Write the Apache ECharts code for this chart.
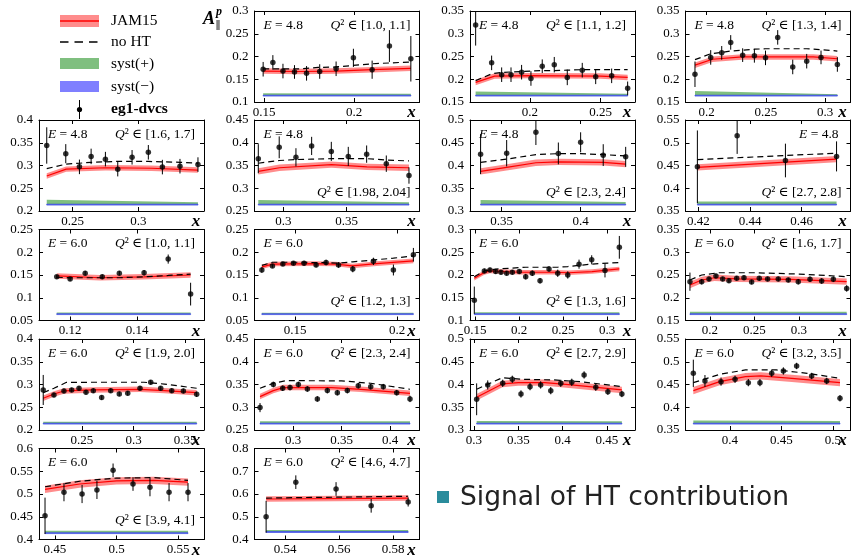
<!DOCTYPE html>
<html>
<head>
<meta charset="utf-8">
<script src="https://cdn.jsdelivr.net/npm/echarts@6/dist/echarts.min.js"></script>
<style>
html, body { margin: 0; padding: 0; background: #fff; }
#chart { width: 852px; height: 558px; }
</style>
</head>
<body>
<div id="chart"></div>
<script>
const SERIF = 'Liberation Serif, DejaVu Serif, serif'

// panel labels
const beamE = ['4.8', '4.8', '4.8', '4.8', '4.8', '4.8', '4.8', '6.0', '6.0', '6.0', '6.0', '6.0', '6.0', '6.0', '6.0', '6.0', '6.0']
const q2Bins = ['[1.0, 1.1]', '[1.1, 1.2]', '[1.3, 1.4]', '[1.6, 1.7]', '[1.98, 2.04]', '[2.3, 2.4]', '[2.7, 2.8]',
  '[1.0, 1.1]', '[1.2, 1.3]', '[1.3, 1.6]', '[1.6, 1.7]', '[1.9, 2.0]', '[2.3, 2.4]', '[2.7, 2.9]', '[3.2, 3.5]', '[3.9, 4.1]', '[4.6, 4.7]']

// axis ranges and tick labels
const xMin = [0.1447, 0.1576, 0.1821, 0.2243, 0.2773, 0.33, 0.415, 0.1107, 0.1301, 0.1443, 0.1725, 0.2083, 0.2603, 0.2955, 0.3568, 0.437, 0.5287]
const xMax = [0.2363, 0.2743, 0.3215, 0.35, 0.4075, 0.4344, 0.4789, 0.16, 0.211, 0.3318, 0.3579, 0.3684, 0.4304, 0.4816, 0.517, 0.5711, 0.5898]
const xTicks = [[0.15, 0.2], [0.2, 0.25], [0.2, 0.25, 0.3], [0.25, 0.3], [0.3, 0.35], [0.35, 0.4], [0.42, 0.44, 0.46],
  [0.12, 0.14], [0.15, 0.2], [0.15, 0.2, 0.25, 0.3], [0.2, 0.25, 0.3], [0.25, 0.3, 0.35], [0.3, 0.35, 0.4],
  [0.3, 0.35, 0.4, 0.45], [0.4, 0.45, 0.5], [0.45, 0.5, 0.55], [0.54, 0.56, 0.58]]
const yMin = [0.1, 0.15, 0.15, 0.2, 0.25, 0.3, 0.35, 0.05, 0.05, 0.1, 0.15, 0.2, 0.25, 0.3, 0.35, 0.4, 0.4]
const yMax = [0.3, 0.35, 0.35, 0.4, 0.45, 0.5, 0.55, 0.25, 0.25, 0.3, 0.35, 0.4, 0.45, 0.5, 0.55, 0.6, 0.8]
const yStep = [0.05, 0.05, 0.05, 0.05, 0.05, 0.05, 0.05, 0.05, 0.05, 0.05, 0.05, 0.05, 0.05, 0.05, 0.05, 0.05, 0.1]

// eg1-dvcs points: [x, A, err]
const pts1 = [[0.1495, 0.172, 0.016], [0.1549, 0.187, 0.016], [0.1605, 0.168, 0.016], [0.1669, 0.166, 0.015], [0.1736, 0.163, 0.016], [0.1809, 0.167, 0.016], [0.19, 0.173, 0.016], [0.1996, 0.197, 0.02], [0.21, 0.171, 0.02], [0.2196, 0.223, 0.035], [0.2315, 0.195, 0.05]]
const pts2 = [[0.1616, 0.319, 0.045], [0.1729, 0.236, 0.016], [0.18, 0.21, 0.016], [0.1866, 0.21, 0.016], [0.1941, 0.2155, 0.016], [0.2007, 0.2017, 0.016], [0.2087, 0.2286, 0.015], [0.2172, 0.232, 0.017], [0.2264, 0.204, 0.017], [0.237, 0.22, 0.016], [0.2465, 0.2053, 0.016], [0.2578, 0.2075, 0.016], [0.2691, 0.18, 0.015]]
const pts3 = [[0.1901, 0.211, 0.028], [0.2034, 0.248, 0.016], [0.2127, 0.258, 0.015], [0.2203, 0.281, 0.016], [0.2304, 0.253, 0.015], [0.2403, 0.2515, 0.015], [0.2497, 0.247, 0.016], [0.26, 0.292, 0.016], [0.2727, 0.227, 0.016], [0.2845, 0.2397, 0.016], [0.2966, 0.248, 0.015], [0.3104, 0.2325, 0.016]]
const pts4 = [[0.2302, 0.344, 0.04], [0.2447, 0.326, 0.021], [0.2551, 0.297, 0.016], [0.264, 0.32, 0.017], [0.2749, 0.314, 0.016], [0.2843, 0.292, 0.016], [0.2952, 0.318, 0.016], [0.3076, 0.329, 0.016], [0.3183, 0.2965, 0.016], [0.3317, 0.2985, 0.016], [0.3454, 0.302, 0.016]]
const pts5 = [[0.2803, 0.365, 0.032], [0.2968, 0.39, 0.024], [0.31, 0.368, 0.02], [0.3224, 0.393, 0.02], [0.3379, 0.381, 0.021], [0.3513, 0.37, 0.021], [0.3658, 0.375, 0.019], [0.3813, 0.354, 0.018], [0.3992, 0.328, 0.018]]
const pts6 = [[0.3367, 0.425, 0.044], [0.3532, 0.427, 0.029], [0.3717, 0.473, 0.028], [0.3859, 0.4265, 0.024], [0.4, 0.451, 0.022], [0.4143, 0.4228, 0.024], [0.4285, 0.419, 0.022]]
const pts7 = [[0.4196, 0.447, 0.08], [0.435, 0.5155, 0.04], [0.4537, 0.461, 0.037], [0.4735, 0.47, 0.033]]
const pts8 = [[0.116, 0.146, 0.004], [0.12, 0.141, 0.004], [0.1245, 0.154, 0.005], [0.1296, 0.146, 0.005], [0.1347, 0.154, 0.005], [0.1421, 0.155, 0.006], [0.1493, 0.185, 0.01], [0.156, 0.108, 0.025]]
const pts9 = [[0.1337, 0.161, 0.006], [0.1389, 0.17, 0.004], [0.144, 0.174, 0.004], [0.1492, 0.176, 0.004], [0.1544, 0.176, 0.005], [0.1603, 0.172, 0.005], [0.1652, 0.1775, 0.006], [0.1713, 0.172, 0.006], [0.1783, 0.163, 0.007], [0.1884, 0.18, 0.008], [0.1982, 0.161, 0.012], [0.208, 0.1945, 0.015]]
const pts10 = [[0.1492, 0.1446, 0.03], [0.1606, 0.209, 0.005], [0.167, 0.2112, 0.005], [0.1735, 0.2075, 0.005], [0.1795, 0.206, 0.005], [0.186, 0.2038, 0.005], [0.1924, 0.206, 0.005], [0.2003, 0.2075, 0.005], [0.2076, 0.1964, 0.006], [0.2151, 0.2038, 0.006], [0.2239, 0.1875, 0.006], [0.2341, 0.2134, 0.006], [0.244, 0.2038, 0.008], [0.2554, 0.2, 0.008], [0.2682, 0.2238, 0.01], [0.2826, 0.2334, 0.01], [0.2977, 0.2097, 0.015], [0.314, 0.2608, 0.025]]
const pts11 = [[0.1775, 0.2353, 0.02], [0.1907, 0.2353, 0.006], [0.1989, 0.2412, 0.005], [0.2067, 0.2479, 0.005], [0.2143, 0.2412, 0.005], [0.2213, 0.2375, 0.005], [0.23, 0.2427, 0.005], [0.2382, 0.2442, 0.005], [0.2468, 0.2346, 0.005], [0.2554, 0.2427, 0.005], [0.2648, 0.2412, 0.005], [0.2767, 0.2412, 0.005], [0.288, 0.239, 0.005], [0.2992, 0.2353, 0.006], [0.3124, 0.2405, 0.006], [0.3255, 0.2368, 0.006], [0.3386, 0.2405, 0.006], [0.3536, 0.2205, 0.007]]
const pts12 = [[0.2124, 0.288, 0.033], [0.2228, 0.277, 0.005], [0.2325, 0.2858, 0.005], [0.24, 0.288, 0.005], [0.2471, 0.2917, 0.005], [0.2539, 0.2829, 0.005], [0.261, 0.2865, 0.005], [0.2691, 0.2712, 0.005], [0.2779, 0.2865, 0.005], [0.2862, 0.2792, 0.005], [0.2944, 0.2807, 0.005], [0.3063, 0.2917, 0.005], [0.3167, 0.3048, 0.005], [0.3264, 0.2917, 0.005], [0.3371, 0.2865, 0.005], [0.3484, 0.2858, 0.005], [0.3613, 0.2785, 0.006]]
const pts13 = [[0.266, 0.2992, 0.01], [0.2797, 0.35, 0.006], [0.2894, 0.3417, 0.006], [0.2969, 0.3432, 0.006], [0.3055, 0.35, 0.006], [0.3148, 0.3402, 0.006], [0.3251, 0.3183, 0.006], [0.3354, 0.3366, 0.006], [0.3457, 0.3321, 0.006], [0.356, 0.3366, 0.006], [0.3673, 0.3475, 0.006], [0.3801, 0.3453, 0.006], [0.3931, 0.3453, 0.006], [0.4069, 0.3321, 0.006], [0.4206, 0.3183, 0.007]]
const pts14 = [[0.303, 0.3675, 0.035], [0.3155, 0.399, 0.01], [0.3324, 0.4026, 0.008], [0.3432, 0.4114, 0.008], [0.353, 0.3792, 0.008], [0.3632, 0.3953, 0.008], [0.3752, 0.399, 0.008], [0.3866, 0.3865, 0.008], [0.3979, 0.4026, 0.008], [0.4103, 0.4048, 0.008], [0.4242, 0.421, 0.008], [0.4374, 0.3939, 0.008], [0.451, 0.3843, 0.007], [0.4668, 0.3792, 0.007]]
const pts15 = [[0.3644, 0.4746, 0.03], [0.3757, 0.4578, 0.013], [0.3913, 0.4563, 0.009], [0.4049, 0.4614, 0.008], [0.4178, 0.4541, 0.008], [0.4291, 0.4541, 0.008], [0.4405, 0.4746, 0.008], [0.4518, 0.4797, 0.008], [0.4647, 0.4907, 0.007], [0.4793, 0.4687, 0.007], [0.4939, 0.4578, 0.007], [0.5068, 0.4197, 0.007]]
const pts16 = [[0.4419, 0.452, 0.04], [0.4573, 0.504, 0.02], [0.472, 0.5, 0.02], [0.4841, 0.509, 0.02], [0.4972, 0.552, 0.015], [0.5134, 0.522, 0.015], [0.5272, 0.515, 0.02], [0.5427, 0.504, 0.02], [0.5581, 0.504, 0.02]]
const pts17 = [[0.533, 0.5, 0.07], [0.544, 0.652, 0.03], [0.5589, 0.622, 0.03], [0.5719, 0.548, 0.03], [0.5856, 0.565, 0.02]]

// JAM15 central curve: [x, A]
const jam1 = [[0.1495, 0.168], [0.17, 0.167], [0.19, 0.168], [0.21, 0.171], [0.2315, 0.174]]
const jam2 = [[0.1616, 0.193], [0.175, 0.207], [0.2, 0.208], [0.25, 0.207], [0.2691, 0.204]]
const jam3 = [[0.1901, 0.231], [0.205, 0.244], [0.23, 0.249], [0.26, 0.249], [0.29, 0.249], [0.3104, 0.245]]
const jam4 = [[0.2302, 0.277], [0.245, 0.292], [0.275, 0.295], [0.31, 0.294], [0.3454, 0.29]]
const jam5 = [[0.2803, 0.337], [0.297, 0.345], [0.338, 0.352], [0.366, 0.347], [0.3992, 0.345]]
const jam6 = [[0.3367, 0.387], [0.3532, 0.396], [0.3717, 0.406], [0.3859, 0.408], [0.4143, 0.407], [0.4285, 0.403]]
const jam7 = [[0.4196, 0.446], [0.4735, 0.464]]
const jam8 = [[0.116, 0.148], [0.129, 0.144], [0.142, 0.146], [0.156, 0.15]]
const jam9 = [[0.1337, 0.168], [0.139, 0.174], [0.16, 0.175], [0.17, 0.174], [0.178, 0.17], [0.19, 0.175], [0.208, 0.181]]
const jam10 = [[0.1492, 0.193], [0.1606, 0.2053], [0.167, 0.209], [0.2, 0.206], [0.24, 0.206], [0.256, 0.205], [0.283, 0.2075], [0.314, 0.2134]]
const jam11 = [[0.1775, 0.228], [0.1907, 0.239], [0.205, 0.244], [0.23, 0.2415], [0.29, 0.2405], [0.3536, 0.2353]]
const jam12 = [[0.2124, 0.2697], [0.2228, 0.2792], [0.2325, 0.2858], [0.26, 0.288], [0.3063, 0.2895], [0.33, 0.2865], [0.3613, 0.282]]
const jam13 = [[0.266, 0.3234], [0.2797, 0.3366], [0.29, 0.3432], [0.34, 0.3432], [0.37, 0.3395], [0.4206, 0.3307]]
const jam14 = [[0.303, 0.372], [0.332, 0.4012], [0.35, 0.404], [0.38, 0.404], [0.41, 0.399], [0.4668, 0.388]]
const jam15 = [[0.3644, 0.4365], [0.39, 0.4563], [0.415, 0.4673], [0.43, 0.4688], [0.46, 0.4636], [0.5068, 0.4541]]
const jam16 = [[0.4419, 0.51], [0.47, 0.522], [0.5, 0.529], [0.53, 0.53], [0.5581, 0.526]]
const jam17 = [[0.533, 0.578], [0.5856, 0.582]]
const jamBand = [0.006, 0.006, 0.006, 0.006, 0.007, 0.007, 0.007, 0.006, 0.005, 0.005, 0.007, 0.006, 0.006, 0.007, 0.008, 0.008, 0.012]

// no HT curve: [x, A]
const noht1 = [[0.1495, 0.173], [0.17, 0.173], [0.18, 0.176], [0.19, 0.177], [0.21, 0.184], [0.2315, 0.188]]
const noht2 = [[0.1616, 0.197], [0.1729, 0.212], [0.18, 0.215], [0.1866, 0.216], [0.1941, 0.217], [0.2007, 0.218], [0.2087, 0.219], [0.2172, 0.219], [0.2264, 0.22], [0.237, 0.221], [0.2465, 0.221], [0.2578, 0.221], [0.2691, 0.221]]
const noht3 = [[0.1901, 0.243], [0.2034, 0.256], [0.2127, 0.259], [0.2203, 0.262], [0.2304, 0.264], [0.2403, 0.266], [0.2497, 0.267], [0.26, 0.267], [0.2727, 0.267], [0.2845, 0.267], [0.2966, 0.265], [0.3104, 0.262]]
const noht4 = [[0.2302, 0.293], [0.2447, 0.303], [0.2551, 0.305], [0.264, 0.307], [0.2749, 0.308], [0.2843, 0.309], [0.2952, 0.309], [0.3076, 0.309], [0.3183, 0.308], [0.3317, 0.307], [0.3454, 0.305]]
const noht5 = [[0.2803, 0.355], [0.2968, 0.361], [0.31, 0.363], [0.3224, 0.364], [0.3379, 0.365], [0.3513, 0.365], [0.3658, 0.365], [0.3813, 0.362], [0.3992, 0.36]]
const noht6 = [[0.3367, 0.407], [0.3532, 0.414], [0.3717, 0.424], [0.3859, 0.426], [0.4, 0.426], [0.4143, 0.424], [0.4285, 0.421]]
const noht7 = [[0.4196, 0.463], [0.435, 0.467], [0.4537, 0.472], [0.4735, 0.477]]
const noht8 = [[0.116, 0.145], [0.12, 0.144], [0.1245, 0.144], [0.1296, 0.144], [0.1347, 0.144], [0.1421, 0.146], [0.1493, 0.149], [0.156, 0.152]]
const noht9 = [[0.1337, 0.171], [0.1389, 0.178], [0.144, 0.178], [0.1492, 0.178], [0.1544, 0.178], [0.1603, 0.177], [0.1652, 0.177], [0.1713, 0.176], [0.1783, 0.179], [0.1884, 0.183], [0.1982, 0.187], [0.208, 0.192]]
const noht10 = [[0.1492, 0.196], [0.1606, 0.209], [0.1735, 0.213], [0.2076, 0.217], [0.244, 0.217], [0.2554, 0.2186], [0.2826, 0.224], [0.314, 0.2275]]
const noht11 = [[0.1775, 0.239], [0.1907, 0.25], [0.21, 0.255], [0.25, 0.255], [0.3, 0.252], [0.3536, 0.2464]]
const noht12 = [[0.2124, 0.282], [0.2228, 0.2917], [0.235, 0.3048], [0.28, 0.305], [0.31, 0.305], [0.33, 0.301], [0.3613, 0.2917]]
const noht13 = [[0.266, 0.3417], [0.2797, 0.3527], [0.293, 0.3585], [0.35, 0.358], [0.38, 0.3527], [0.4206, 0.3395]]
const noht14 = [[0.303, 0.3895], [0.332, 0.415], [0.355, 0.4114], [0.39, 0.41], [0.42, 0.4063], [0.4668, 0.3953]]
const noht15 = [[0.3644, 0.454], [0.39, 0.4724], [0.415, 0.482], [0.445, 0.482], [0.475, 0.4746], [0.5068, 0.4636]]
const noht16 = [[0.4419, 0.516], [0.47, 0.528], [0.5, 0.535], [0.53, 0.536], [0.5581, 0.53]]
const noht17 = [[0.533, 0.582], [0.544, 0.584], [0.5589, 0.586], [0.5719, 0.588], [0.5856, 0.59]]

// systematic bands
const systBase = [0.115, 0.165, 0.165, 0.215, 0.265, 0.315, 0.365, 0.065, 0.065, 0.115, 0.165, 0.215, 0.265, 0.315, 0.365, 0.415, 0.435]
const systPlusL = [0.004, 0.008, 0.009, 0.01, 0.009, 0.009, 0.006, 0.0025, 0.002, 0.003, 0.004, 0.003, 0.004, 0.005, 0.006, 0.004, 0.007]
const systPlusR = [0.003, 0.003, 0.002, 0.004, 0.004, 0.005, 0.006, 0.0025, 0.002, 0.003, 0.004, 0.003, 0.004, 0.004, 0.005, 0.004, 0.007]
const systMinus = [0.002, 0.002, 0.002, 0.002, 0.002, 0.002, 0.002, 0.002, 0.002, 0.002, 0.002, 0.002, 0.002, 0.002, 0.002, 0.002, 0.004]

const PTS = [pts1, pts2, pts3, pts4, pts5, pts6, pts7, pts8, pts9, pts10, pts11, pts12, pts13, pts14, pts15, pts16, pts17]
const JAM = [jam1, jam2, jam3, jam4, jam5, jam6, jam7, jam8, jam9, jam10, jam11, jam12, jam13, jam14, jam15, jam16, jam17]
const NOHT = [noht1, noht2, noht3, noht4, noht5, noht6, noht7, noht8, noht9, noht10, noht11, noht12, noht13, noht14, noht15, noht16, noht17]

// layout
const panelRow = [0, 0, 0, 1, 1, 1, 1, 2, 2, 2, 2, 3, 3, 3, 3, 4, 4]
const panelCol = [1, 2, 3, 0, 1, 2, 3, 0, 1, 2, 3, 0, 1, 2, 3, 0, 1]
const q2AtBottom = [4, 5, 6, 8, 9, 15]
const eAtRight = [6]
const COL_LEFT = [39, 254.5, 470, 685.5]
const ROW_TOP = [11, 120, 229.5, 339, 448.5]
const PW = 165
const PH = 91

const fmt = (v) => String(Math.round(v * 1000) / 1000)

const txt = (x, y, text, style) => ({
	type: 'text', x, y, silent: true, z: 100,
	style: Object.assign({ text, fill: '#000', fontFamily: SERIF, fontSize: 13.5, align: 'left', verticalAlign: 'middle' }, style || {}),
})
const italicRich = { i: { fontStyle: 'italic', fontFamily: SERIF, fontSize: 13.5 } }

const polySeries = (g, rows, fill, stroke, z) => ({
	type: 'custom', xAxisIndex: 2 * g, yAxisIndex: 2 * g, z, silent: true, clip: true,
	data: [[rows[0][0], rows[0][1]]],
	encode: { x: 0, y: 1 },
	renderItem: (params, api) => {
		const up = rows.map((r) => api.coord([r[0], r[2]]))
		const dn = rows.map((r) => api.coord([r[0], r[1]])).reverse()
		return {
			type: 'polygon',
			shape: { points: up.concat(dn) },
			style: { fill, stroke: stroke || null, lineWidth: stroke ? 0.8 : 0 },
		}
	},
})

const grids = []
const xAxes = []
const yAxes = []
const series = []
const graphics = []

for (let i = 0; i < 17; i++) {
	const left = COL_LEFT[panelCol[i]]
	const top = ROW_TOP[panelRow[i]]
	grids.push({ left, top, width: PW, height: PH, containLabel: false, outerBoundsMode: 'none' })

	const yTicks = []
	for (let v = yMin[i]; v <= yMax[i] + 1e-9; v += yStep[i]) yTicks.push(Math.round(v * 1000) / 1000)

	const base = { gridIndex: i, type: 'value', splitLine: { show: false },
		axisLine: { show: true, onZero: false, lineStyle: { color: '#000', width: 1 } } }
	const label = { color: '#000', fontFamily: SERIF, fontSize: 13, formatter: fmt, hideOverlap: false }

	xAxes.push(Object.assign({}, base, {
		position: 'bottom', min: xMin[i], max: xMax[i],
		axisTick: { show: true, inside: true, length: 4, customValues: xTicks[i], lineStyle: { color: '#000' } },
		axisLabel: Object.assign({ show: true, margin: 4, customValues: xTicks[i] }, label),
	}))
	xAxes.push(Object.assign({}, base, {
		position: 'top', min: xMin[i], max: xMax[i],
		axisTick: { show: true, inside: true, length: 4, customValues: xTicks[i], lineStyle: { color: '#000' } },
		axisLabel: { show: false },
	}))
	yAxes.push(Object.assign({}, base, {
		position: 'left', min: yMin[i], max: yMax[i],
		axisTick: { show: true, inside: true, length: 4, customValues: yTicks, lineStyle: { color: '#000' } },
		axisLabel: Object.assign({ show: true, margin: 6, customValues: yTicks }, label),
	}))
	yAxes.push(Object.assign({}, base, {
		position: 'right', min: yMin[i], max: yMax[i],
		axisTick: { show: true, inside: true, length: 4, customValues: yTicks, lineStyle: { color: '#000' } },
		axisLabel: { show: false },
	}))

	const pts = PTS[i]
	const x0 = pts[0][0]
	const x1 = pts[pts.length - 1][0]
	const b = systBase[i]

	series.push(polySeries(i, [[x0, b, b + systPlusL[i]], [x1, b, b + systPlusR[i]]], 'rgba(0,128,0,0.5)', null, 1))
	series.push(polySeries(i, [[x0, b - systMinus[i], b], [x1, b - systMinus[i], b]], 'rgba(0,0,255,0.55)', 'rgba(40,60,220,0.8)', 1))
	series.push(polySeries(i, JAM[i].map((d) => [d[0], d[1] - jamBand[i], d[1] + jamBand[i]]), 'rgba(255,0,0,0.45)', null, 2))
	series.push({
		type: 'line', xAxisIndex: 2 * i, yAxisIndex: 2 * i, z: 3, silent: true,
		data: JAM[i], symbol: 'none', lineStyle: { color: '#ff0000', width: 1.2 },
	})
	series.push({
		type: 'line', xAxisIndex: 2 * i, yAxisIndex: 2 * i, z: 4, silent: true,
		data: NOHT[i], symbol: 'none', lineStyle: { color: '#000', width: 1.2, type: [6, 4] },
	})
	series.push({
		type: 'custom', xAxisIndex: 2 * i, yAxisIndex: 2 * i, z: 5, silent: true, clip: true,
		data: pts, encode: { x: 0, y: 1 },
		renderItem: (params, api) => {
			const x = api.value(0)
			const y = api.value(1)
			const e = api.value(2)
			const a = api.coord([x, y + e])
			const c = api.coord([x, y - e])
			return { type: 'line', shape: { x1: a[0], y1: a[1], x2: c[0], y2: c[1] }, style: { stroke: '#000', lineWidth: 1 } }
		},
	})
	series.push({
		type: 'scatter', xAxisIndex: 2 * i, yAxisIndex: 2 * i, z: 6, silent: true,
		data: pts.map((p) => [p[0], p[1]]), symbolSize: 5.5, itemStyle: { color: '#000' },
	})

	// panel texts
	const right = left + PW
	const bottom = top + PH
	const eText = '{i|E} = ' + beamE[i]
	const qText = '{i|Q}² ∈ ' + q2Bins[i]
	if (eAtRight.includes(i)) {
		graphics.push(txt(right - 12, top + 14, eText, { align: 'right', rich: italicRich }))
	} else {
		graphics.push(txt(left + 9, top + 14, eText, { rich: italicRich }))
	}
	if (q2AtBottom.includes(i)) {
		graphics.push(txt(right - 9, bottom - 19, qText, { align: 'right', rich: italicRich }))
	} else {
		graphics.push(txt(right - 9, top + 14, qText, { align: 'right', rich: italicRich }))
	}
	graphics.push(txt(right - 8, bottom + 11, 'x', { align: 'center', fontStyle: 'italic', fontWeight: 'bold', fontSize: 17 }))
}

// legend
graphics.push({ type: 'rect', silent: true, shape: { x: 60, y: 15, width: 39, height: 12 }, style: { fill: 'rgba(255,0,0,0.45)' } })
graphics.push({ type: 'line', silent: true, shape: { x1: 60, y1: 21, x2: 99, y2: 21 }, style: { stroke: '#ff0000', lineWidth: 1.5 } })
graphics.push({ type: 'line', silent: true, shape: { x1: 60, y1: 42, x2: 99, y2: 42 }, style: { stroke: '#000', lineWidth: 1.3, lineDash: [8.5, 6] } })
graphics.push({ type: 'rect', silent: true, shape: { x: 60, y: 58, width: 39, height: 11 }, style: { fill: 'rgba(0,128,0,0.5)' } })
graphics.push({ type: 'rect', silent: true, shape: { x: 60, y: 81, width: 39, height: 11 }, style: { fill: 'rgba(0,0,255,0.5)' } })
graphics.push({ type: 'line', silent: true, shape: { x1: 79.5, y1: 100, x2: 79.5, y2: 119 }, style: { stroke: '#000', lineWidth: 1 } })
graphics.push({ type: 'circle', silent: true, shape: { cx: 79.5, cy: 109.5, r: 2.6 }, style: { fill: '#000' } })
graphics.push(txt(111, 21, 'JAM15', { fontSize: 15.5 }))
graphics.push(txt(111, 42, 'no HT', { fontSize: 15.5 }))
graphics.push(txt(111, 64, 'syst(+)', { fontSize: 15.5 }))
graphics.push(txt(111, 87, 'syst(−)', { fontSize: 15.5 }))
graphics.push(txt(111, 109, 'eg1-dvcs', { fontSize: 15.5, fontWeight: 'bold' }))

// A_parallel^p
graphics.push(txt(209, 19, 'A', { align: 'center', fontStyle: 'italic', fontWeight: 'bold', fontSize: 18 }))
graphics.push(txt(219, 12, 'p', { align: 'center', fontStyle: 'italic', fontWeight: 'bold', fontSize: 12 }))
graphics.push(txt(218, 26, '∥', { align: 'center', fontSize: 11 }))

// annotation
graphics.push({ type: 'rect', silent: true, shape: { x: 437, y: 491, width: 12, height: 12 }, style: { fill: '#2a8c9c' } })
graphics.push(txt(460, 498, 'Signal of HT contribution', { fontFamily: 'DejaVu Sans, sans-serif', fontSize: 26.5, fill: '#222' }))

const chart = echarts.init(document.getElementById('chart'), null, { renderer: 'canvas' })
chart.setOption({
	animation: false,
	backgroundColor: '#fff',
	grid: grids,
	xAxis: xAxes,
	yAxis: yAxes,
	series,
	graphic: { elements: graphics },
})
</script>
</body>
</html>
